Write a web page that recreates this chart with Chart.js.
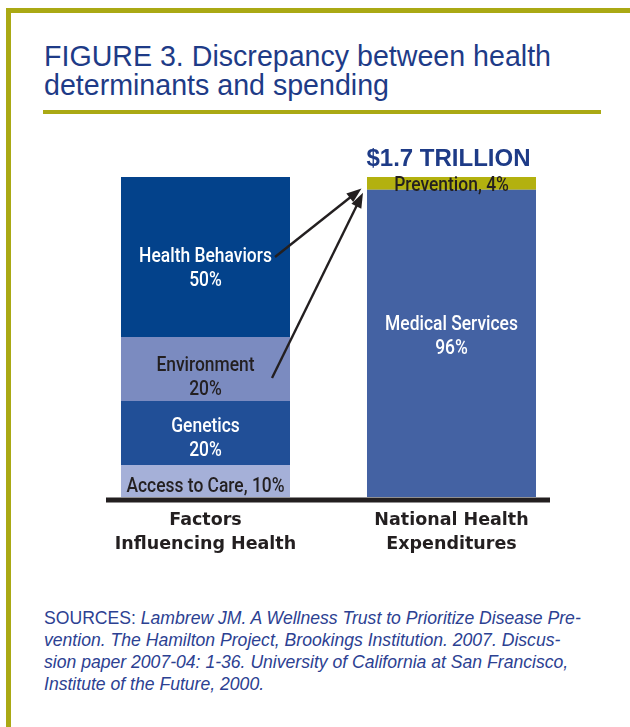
<!DOCTYPE html>
<html>
<head>
<meta charset="utf-8">
<script src="https://cdn.jsdelivr.net/npm/chart.js@4/dist/chart.umd.min.js"></script>
<style>
  html, body { margin:0; padding:0; background:#ffffff; width:630px; height:727px; overflow:hidden; position:relative; }
  #frameTop { position:absolute; left:6px; top:8px; width:624px; height:5px; background:#aaa914; }
  #frameLeft { position:absolute; left:6px; top:8px; width:5px; height:719px; background:#aaa914; }
  #title { position:absolute; left:44px; top:42px; margin:0; color:#1e3b87; font-family:"Liberation Sans", Arial, sans-serif; font-weight:normal; font-size:28.6px; line-height:29px; white-space:nowrap; }
  #rule { position:absolute; left:43px; top:110px; width:558px; height:4px; background:#aaa914; }
  #wrap { position:absolute; left:0; top:0; width:630px; height:570px; }
  #sources { position:absolute; left:44px; top:607px; margin:0; color:#2c4192; font-family:"Liberation Sans", Arial, sans-serif; font-size:17.6px; line-height:22px; white-space:nowrap; }
  #sources i { font-style:italic; }
</style>
</head>
<body>
<div id="frameTop"></div>
<div id="frameLeft"></div>
<h1 id="title">FIGURE 3. Discrepancy between health<br>determinants and spending</h1>
<div id="rule"></div>
<div id="wrap"><canvas id="chart" width="630" height="570"></canvas></div>
<p id="sources">SOURCES: <i>Lambrew JM. A Wellness Trust to Prioritize Disease Pre-</i><br><i>vention. The Hamilton Project, Brookings Institution. 2007. Discus-</i><br><i>sion paper 2007-04: 1-36. University of California at San Francisco,</i><br><i>Institute of the Future, 2000.</i></p>

<script>
// ---- data ----
const categories = [['Factors', 'Influencing Health'], ['National Health', 'Expenditures']];
const factorNames = ['Access to Care', 'Genetics', 'Environment', 'Health Behaviors'];
const factorValues = [10, 20, 20, 50];
const spendingNames = ['Medical Services', 'Prevention'];
const spendingValues = [96, 4];
const totalLabel = '$1.7 TRILLION';
const arrowFrom = ['Health Behaviors', 'Environment'];
const arrowTo = ['Prevention', 'Medical Services'];

// ---- styles ----
const factorColors = ['#a5b0d8', '#214f97', '#7b8bc0', '#03428b'];
const factorText = ['#231f20', '#ffffff', '#231f20', '#ffffff'];
const factorInline = [true, false, false, false];
const factorDy = [6, 6, 9, 12];
const spendingColors = ['#4462a3', '#b3b10f'];
const spendingText = ['#ffffff', '#231f20'];
const spendingInline = [false, true];
const spendingDy = [-7, 2];
const ink = '#231f20';
const labelFont = '500 21px Roboto, "DejaVu Sans Condensed", sans-serif';
const condense = 0.83;

const datasets = [];
factorNames.forEach((n, i) => datasets.push({
  label: n, data: [factorValues[i], null], backgroundColor: factorColors[i], stack: 's',
  txt: factorText[i], inline: factorInline[i], dy: factorDy[i]
}));
spendingNames.forEach((n, i) => datasets.push({
  label: n, data: [null, spendingValues[i]], backgroundColor: spendingColors[i], stack: 's',
  txt: spendingText[i], inline: spendingInline[i], dy: spendingDy[i]
}));

function barOf(chart, name) {
  const i = chart.data.datasets.findIndex(d => d.label === name);
  const ds = chart.data.datasets[i];
  const j = ds.data.findIndex(v => v != null);
  const el = chart.getDatasetMeta(i).data[j];
  const p = el.getProps(['x', 'y', 'base', 'width'], true);
  return { x: p.x, top: Math.min(p.y, p.base), bottom: Math.max(p.y, p.base), w: p.width,
           left: p.x - p.width / 2, right: p.x + p.width / 2, cy: (p.y + p.base) / 2 + ds.dy };
}

function arrow(ctx, x1, y1, x2, y2) {
  const ang = Math.atan2(y2 - y1, x2 - x1);
  const hl = 15, hw = 5.5;
  const bx = x2 - hl * Math.cos(ang), by = y2 - hl * Math.sin(ang);
  ctx.strokeStyle = ink; ctx.fillStyle = ink; ctx.lineWidth = 2.4;
  ctx.beginPath(); ctx.moveTo(x1, y1); ctx.lineTo(bx + 2 * Math.cos(ang), by + 2 * Math.sin(ang)); ctx.stroke();
  ctx.beginPath();
  ctx.moveTo(x2, y2);
  ctx.lineTo(bx + hw * Math.sin(ang), by - hw * Math.cos(ang));
  ctx.lineTo(bx - hw * Math.sin(ang), by + hw * Math.cos(ang));
  ctx.closePath(); ctx.fill();
}

function narrowText(ctx, s, x, y) {
  const w = ctx.measureText(s).width;
  ctx.fillText(s, x, y, w * condense);
}

const annotate = {
  id: 'annotate',
  afterDatasetsDraw(chart) {
    const ctx = chart.ctx;
    ctx.save();
    ctx.textAlign = 'center'; ctx.textBaseline = 'middle'; ctx.font = labelFont;
    chart.data.datasets.forEach((ds, i) => {
      chart.getDatasetMeta(i).data.forEach((el, j) => {
        const v = ds.data[j];
        if (v == null) return;
        const p = el.getProps(['x', 'y', 'base'], true);
        const cy = (p.y + p.base) / 2 + ds.dy;
        ctx.fillStyle = ds.txt;
        if (ds.inline) {
          narrowText(ctx, ds.label + ', ' + v + '%', p.x, cy);
        } else {
          narrowText(ctx, ds.label, p.x, cy - 12);
          narrowText(ctx, v + '%', p.x, cy + 12);
        }
      });
    });
    // baseline
    const leftBar = barOf(chart, factorNames[0]);
    const rightBar = barOf(chart, spendingNames[0]);
    const y0 = chart.scales.y.getPixelForValue(0);
    ctx.fillStyle = ink;
    ctx.fillRect(leftBar.left - 15, y0 + 0.5, (rightBar.right + 14) - (leftBar.left - 15), 5);
    // total label
    const topBar = barOf(chart, spendingNames[1]);
    ctx.font = 'bold 24px "Liberation Sans", Arial, sans-serif';
    ctx.fillStyle = '#1e3b87';
    ctx.fillText(totalLabel, topBar.x - 3, topBar.top - 18);
    // arrows
    const a1 = barOf(chart, arrowFrom[0]);
    const t1 = barOf(chart, arrowTo[0]);
    arrow(ctx, a1.right - 15, a1.cy - 12, t1.left - 5.5, t1.cy + 3);
    const a2 = barOf(chart, arrowFrom[1]);
    const t2 = barOf(chart, arrowTo[1]);
    arrow(ctx, a2.right - 18, a2.cy, t2.left - 4, t2.top + 3);
    ctx.restore();
  }
};

new Chart(document.getElementById('chart'), {
  type: 'bar',
  data: { labels: categories, datasets: datasets },
  options: {
    responsive: false,
    animation: false,
    layout: { padding: { left: 82.5, right: 55.5, top: 177, bottom: 0 } },
    plugins: { legend: { display: false }, tooltip: { enabled: false }, title: { display: false } },
    datasets: { bar: { barPercentage: 0.687, categoryPercentage: 1 } },
    scales: {
      x: {
        stacked: true,
        grid: { display: false, drawTicks: false },
        border: { display: false },
        ticks: { color: ink, padding: 12, maxRotation: 0, autoSkip: false,
                 font: { family: '"DejaVu Sans", sans-serif', weight: 'bold', size: 17.5, lineHeight: 1.35 } },
        afterFit(s) { s.height = 73; }
      },
      y: { stacked: true, display: false, min: 0, max: 100 }
    }
  },
  plugins: [annotate]
});
</script>
</body>
</html>
